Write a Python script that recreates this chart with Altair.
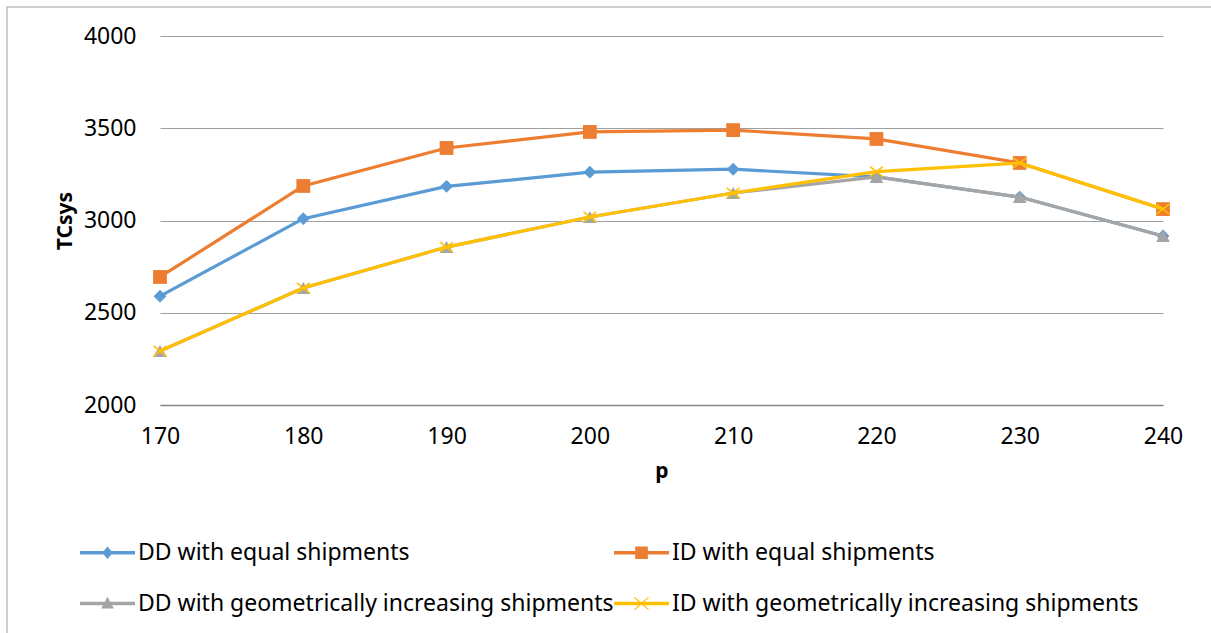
import altair as alt
import pandas as pd

p_values = [170, 180, 190, 200, 210, 220, 230, 240]
series_names = [
    "DD with equal shipments",
    "ID with equal shipments",
    "DD with geometrically increasing shipments",
    "ID with geometrically increasing shipments",
]
dd_equal = [2590, 3010, 3185, 3262, 3278, 3236, 3127, 2916]
id_equal = [2694, 3187, 3393, 3480, 3490, 3442, 3312, 3062]
dd_geom = [2293, 2634, 2856, 3019, 3149, 3236, 3127, 2916]
id_geom = [2293, 2634, 2856, 3019, 3149, 3265, 3312, 3062]
y_ticks = [2000, 2500, 3000, 3500, 4000]

colors = ["#5B9BD5", "#ED7D31", "#A5A5A5", "#FFC000"]
plot_shapes = ["diamond", "square", "triangle-up", "M-1,-0.8L1,0.8M-1,0.8L1,-0.8"]
plot_sizes = [165, 190, 190, 160]
legend_shapes = [
    "M-1,-0.06H1V0.06H-1Z M0,-0.23L0.19,0L0,0.23L-0.19,0Z",
    "M-1,-0.06H1V0.06H-1Z M-0.23,-0.23H0.23V0.23H-0.23Z",
    "M-1,-0.06H1V0.06H-1Z M0,-0.25L0.23,0.18H-0.23Z",
    "M-1,-0.06H1V0.06H-1Z M-0.27,-0.21L-0.24,-0.24L0,-0.03L0.24,-0.24L0.27,-0.21L0.03,0L0.27,0.21L0.24,0.24L0,0.03L-0.24,0.24L-0.27,0.21L-0.03,0Z",
]

rows = []
for name, vals in zip(series_names, [dd_equal, id_equal, dd_geom, id_geom]):
    for p, v in zip(p_values, vals):
        rows.append({"p": p, "TCsys": v, "series": name})
df = pd.DataFrame(rows)

FONT = "Noto Sans"

x_enc = alt.X(
    "p:Q",
    title="p",
    scale=alt.Scale(domain=[170, 240], nice=False, zero=False),
    axis=alt.Axis(values=p_values, grid=False, ticks=False, tickSize=0,
                  domain=True, domainColor="#868686", domainWidth=1.5,
                  labelFlush=False, labelOverlap=False,
                  labelPadding=20, titlePadding=12, format="d"),
)
y_enc = alt.Y(
    "TCsys:Q",
    title="TCsys",
    scale=alt.Scale(domain=[2000, 4000], nice=False, zero=False),
    axis=alt.Axis(values=y_ticks, grid=True, gridColor="#A0A0A0", gridWidth=1,
                  ticks=False, tickSize=0, domain=False, labelPadding=24,
                  labelFlush=False, titlePadding=8, format="d"),
)

base = alt.Chart(df)
layers = []

# outer chart border
border = alt.Chart(pd.DataFrame({"a": [0]})).mark_rect(
    fill=None, stroke="#BFBFBF", strokeWidth=1.5
).encode(
    x=alt.value(-153), x2=alt.value(1070), y=alt.value(-29), y2=alt.value(620)
)
layers.append(border)

for i, name in enumerate(series_names):
    sub = base.transform_filter(alt.datum.series == name)
    line = sub.mark_line(strokeWidth=3.2, color=colors[i]).encode(x=x_enc, y=y_enc)
    if i == 3:
        pts = sub.mark_point(shape=plot_shapes[i], filled=False, color=colors[i],
                             strokeWidth=1.6, size=plot_sizes[i], opacity=1).encode(x=x_enc, y=y_enc)
    else:
        pts = sub.mark_point(shape=plot_shapes[i], filled=True, color=colors[i],
                             size=plot_sizes[i], opacity=1).encode(x=x_enc, y=y_enc)
    layers += [line, pts]

legend_layer = base.transform_filter("datum.p < 0").mark_point(filled=True, opacity=1).encode(
    x=x_enc,
    y=y_enc,
    color=alt.Color("series:N", scale=alt.Scale(domain=series_names, range=colors), title=None),
    shape=alt.Shape("series:N", scale=alt.Scale(domain=series_names, range=legend_shapes), title=None,
                    legend=alt.Legend(orient="none", legendX=-80, legendY=489, columns=2,
                                      direction="horizontal",
                                      symbolSize=3025, symbolStrokeWidth=0,
                                      labelFontSize=23, labelFont=FONT, labelColor="#000000",
                                      labelOffset=3, columnPadding=0, rowPadding=11,
                                      labelLimit=700)),
)
layers.append(legend_layer)

chart = alt.layer(*layers).properties(
    width=1003, height=369,
    autosize=alt.AutoSizeParams(type="none"),
    padding={"left": 160, "top": 36, "right": 48, "bottom": 228},
    background="#FFFFFF",
).configure_view(stroke=None).configure_axis(
    labelFont=FONT, labelFontSize=23, labelColor="#000000",
    titleFont=FONT, titleFontSize=21, titleFontWeight="bold", titleColor="#000000",
)

chart.save("out.html", embed_options={"renderer": "svg", "actions": False})
